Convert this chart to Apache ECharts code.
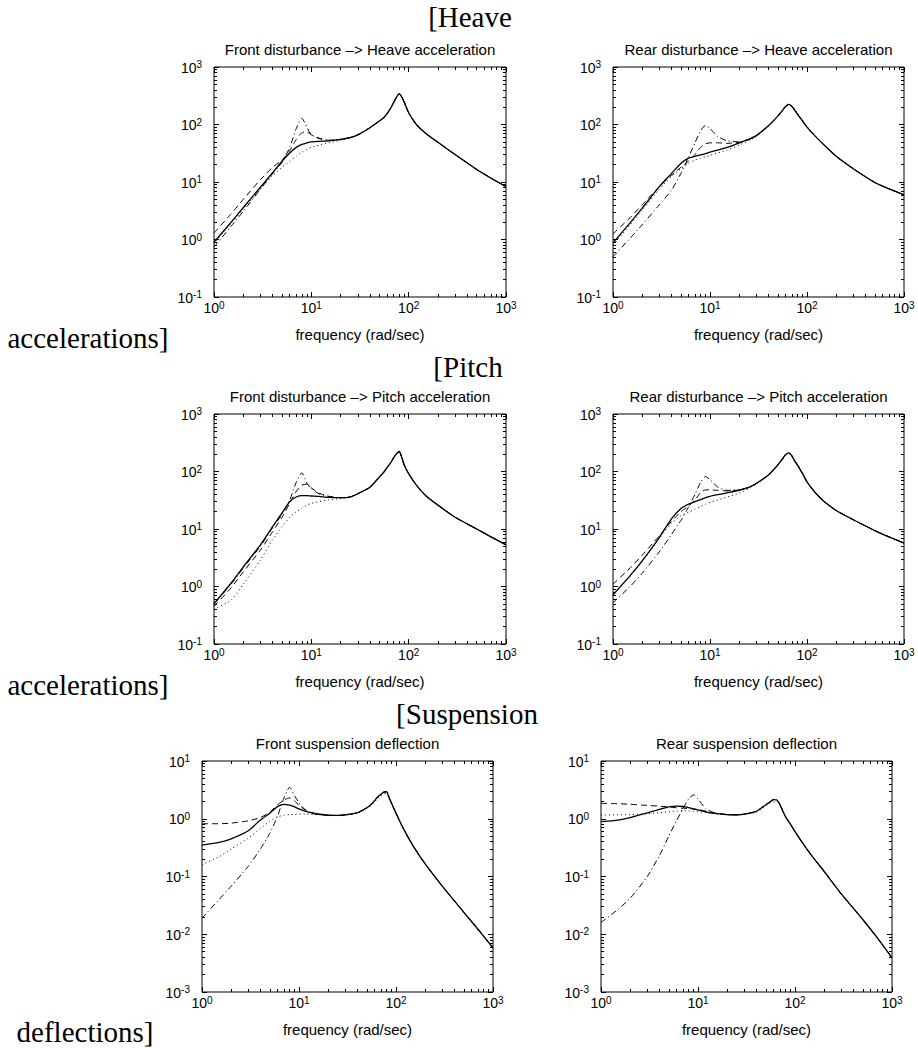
<!DOCTYPE html>
<html>
<head>
<meta charset="utf-8">
<script src="https://cdn.jsdelivr.net/npm/echarts@6/dist/echarts.min.js"></script>
<style>
html,body{margin:0;padding:0;background:#fff;}
#c{width:918px;height:1048px;}
</style>
</head>
<body>
<div id="c"></div>
<script>
// ---------- data ----------
const FREQ = [1,1.5,2,3,4,5,6,7,8,9,10,12,15,20,25,30,40,50,55,60,65,70,75,80,85,90,100,120,150,200,300,500,700,1000];

const X_TICKS = [1,10,100,1000];
const Y_TICKS_ACC = [0.1,1,10,100,1000];
const Y_TICKS_DEF = [0.001,0.01,0.1,1,10];
const MINOR_MULT = [2,3,4,5,6,7,8,9];

const SERIES_NAMES = ['solid','dashed','dotted','dashdot'];

// Front disturbance -> Heave acceleration
const fh_solid   = [0.9,2.0,3.6,8.1,14.5,23,32,40,45,48,50,51,52,55,59,66,88,115,130,155,190,240,300,345,300,245,160,100,70,49,30,16.5,11.7,8.3];
const fh_dashed  = [1.3,2.8,5.0,11,18,24,35,55,72,74,66,57,53,55,59,66,88,115,130,155,190,240,300,345,300,245,160,100,70,49,30,16.5,11.7,8.3];
const fh_dotted  = [0.85,1.9,3.4,7.6,13,18,23,28,33,37,40,44,48,53,58,66,88,117,133,158,190,232,285,330,295,245,160,100,70,49,30,16.5,11.7,8.3];
const fh_dashdot = [0.74,1.7,3.1,7.5,14,22,40,85,128,90,66,58,53,55,59,66,88,115,130,155,190,240,300,345,300,245,160,100,70,49,30,16.5,11.7,8.3];

// Rear disturbance -> Heave acceleration
const rh_solid   = [0.87,1.95,3.5,8.3,14,21,26,28,29.5,31,33,36,40,48,55,64,95,140,170,205,224,205,175,150,130,115,90,64,44,28,17,9.8,7.6,6.0];
const rh_dashed  = [1.25,2.4,4.0,8.3,13,18,23,30,40,46,48,48,47,49,55,64,95,140,170,205,224,205,175,150,130,115,90,64,44,28,17,9.8,7.6,6.0];
const rh_dotted  = [0.8,1.8,3.2,7.5,12.5,17,21,24,26,27.5,29,32,36,44,52,62,93,140,168,200,218,212,182,155,133,117,92,65,44,28,17,9.8,7.6,6.0];
const rh_dashdot = [0.5,1.05,1.8,4.0,7.2,14,27,48,78,97,85,62,52,50,55,64,95,140,170,205,224,205,175,150,130,115,90,64,44,28,17,9.8,7.6,6.0];

// Front disturbance -> Pitch acceleration
const fp_solid   = [0.5,1.15,2.2,5.3,11,19,30,36,38,38,37.5,37,35.5,35,36,41,53,80,95,117,140,172,205,224,175,130,92,58,38,26,16,10,7.3,5.3];
const fp_dashed  = [0.45,0.95,1.8,4.3,9,16,28,45,58,60,52,42,37,35,36,41,53,80,95,117,140,172,205,224,175,130,92,58,38,26,16,10,7.3,5.3];
const fp_dotted  = [0.4,0.58,1.1,2.9,6.5,11,16,20,23,26,28,30,32,34,36,41,54,82,98,120,145,175,200,212,172,128,90,58,38,26,16,10,7.3,5.3];
const fp_dashdot = [0.5,1.1,2.1,5.0,10.5,18,32,65,95,63,50,41,37,35,36,41,53,80,95,117,140,172,205,224,175,130,92,58,38,26,16,10,7.3,5.3];

// Rear disturbance -> Pitch acceleration
const rp_solid   = [0.72,1.55,2.8,7.1,15,22.5,27,30,32.5,35,37,39.5,42.5,47,53,62,87,130,160,195,210,185,150,128,108,92,66,44,30,21,14.5,9.4,7.3,5.7];
const rp_dashed  = [1.1,2.1,3.5,7.6,13.5,20,25,32,43,48,48,47,46,48,53,62,87,130,160,195,210,185,150,128,108,92,66,44,30,21,14.5,9.4,7.3,5.7];
const rp_dotted  = [0.7,1.5,2.7,6.8,12.5,17,19.5,22,24.5,27,29,32,36,42,50,60,87,128,155,188,205,192,160,135,112,95,68,44,30,21,14.5,9.4,7.3,5.7];
const rp_dashdot = [0.52,1.0,1.7,4.0,8,14,24,40,65,82,72,54,47,48,53,62,87,130,160,195,210,185,150,128,108,92,66,44,30,21,14.5,9.4,7.3,5.7];

// Front suspension deflection
const fs_solid   = [0.35,0.39,0.45,0.62,0.95,1.25,1.62,1.78,1.72,1.6,1.48,1.33,1.22,1.15,1.14,1.17,1.27,1.55,1.75,2.05,2.4,2.65,2.9,2.95,2.3,1.85,1.25,0.66,0.34,0.165,0.068,0.024,0.0122,0.0058];
const fs_dashed  = [0.82,0.82,0.84,0.92,1.05,1.3,1.75,2.1,2.3,2.05,1.7,1.38,1.22,1.15,1.14,1.17,1.27,1.55,1.75,2.05,2.4,2.65,2.9,2.95,2.3,1.85,1.25,0.66,0.34,0.165,0.068,0.024,0.0122,0.0058];
const fs_dotted  = [0.16,0.22,0.3,0.46,0.68,0.9,1.08,1.15,1.18,1.19,1.2,1.2,1.18,1.14,1.13,1.16,1.25,1.5,1.68,1.95,2.25,2.5,2.7,2.75,2.25,1.82,1.25,0.66,0.34,0.165,0.068,0.024,0.0122,0.0058];
const fs_dashdot = [0.019,0.04,0.068,0.15,0.3,0.56,1.1,2.3,3.5,2.5,1.9,1.35,1.2,1.15,1.14,1.17,1.27,1.55,1.75,2.05,2.4,2.65,2.9,2.95,2.3,1.85,1.25,0.66,0.34,0.165,0.068,0.024,0.0122,0.0058];

// Rear suspension deflection
const rs_solid   = [0.89,0.95,1.05,1.27,1.45,1.6,1.65,1.63,1.56,1.48,1.42,1.32,1.24,1.18,1.17,1.2,1.35,1.75,1.95,2.15,2.12,1.75,1.35,1.08,0.92,0.8,0.6,0.38,0.225,0.122,0.05,0.018,0.0088,0.0039];
const rs_dashed  = [1.85,1.82,1.78,1.7,1.65,1.6,1.55,1.52,1.5,1.47,1.44,1.36,1.25,1.18,1.17,1.2,1.35,1.75,1.95,2.15,2.12,1.75,1.35,1.08,0.92,0.8,0.6,0.38,0.225,0.122,0.05,0.018,0.0088,0.0039];
const rs_dotted  = [1.16,1.17,1.18,1.22,1.27,1.32,1.36,1.37,1.36,1.34,1.32,1.28,1.22,1.17,1.16,1.19,1.3,1.65,1.85,1.95,2.0,1.75,1.38,1.1,0.93,0.8,0.6,0.38,0.225,0.122,0.05,0.018,0.0088,0.0039];
const rs_dashdot = [0.016,0.027,0.042,0.1,0.23,0.5,0.92,1.5,2.2,2.6,2.2,1.5,1.25,1.18,1.17,1.2,1.35,1.75,1.95,2.15,2.12,1.75,1.35,1.08,0.92,0.8,0.6,0.38,0.225,0.122,0.05,0.018,0.0088,0.0039];

const PLOT_TITLES = [
  'Front disturbance –> Heave acceleration',
  'Rear disturbance –> Heave acceleration',
  'Front disturbance –> Pitch acceleration',
  'Rear disturbance –> Pitch acceleration',
  'Front suspension deflection',
  'Rear suspension deflection'
];
const X_LABEL = 'frequency (rad/sec)';
const SIDE_TEXTS = ['[Heave','accelerations]','[Pitch','accelerations]','[Suspension','deflections]'];

const PLOTS = [
  {title: PLOT_TITLES[0], yTicks: Y_TICKS_ACC, data: [fh_solid, fh_dashed, fh_dotted, fh_dashdot]},
  {title: PLOT_TITLES[1], yTicks: Y_TICKS_ACC, data: [rh_solid, rh_dashed, rh_dotted, rh_dashdot]},
  {title: PLOT_TITLES[2], yTicks: Y_TICKS_ACC, data: [fp_solid, fp_dashed, fp_dotted, fp_dashdot]},
  {title: PLOT_TITLES[3], yTicks: Y_TICKS_ACC, data: [rp_solid, rp_dashed, rp_dotted, rp_dashdot]},
  {title: PLOT_TITLES[4], yTicks: Y_TICKS_DEF, data: [fs_solid, fs_dashed, fs_dotted, fs_dashdot]},
  {title: PLOT_TITLES[5], yTicks: Y_TICKS_DEF, data: [rs_solid, rs_dashed, rs_dotted, rs_dashdot]}
];

// ---------- layout / style ----------
const GRIDS = [
  {left:214, top:67,  width:292, height:230},
  {left:613, top:67,  width:291, height:230},
  {left:214, top:414, width:292, height:230},
  {left:613, top:414, width:291, height:230},
  {left:202, top:761, width:291, height:231},
  {left:601, top:761, width:291, height:231}
];
const SANS = '"Liberation Sans", Arial, Helvetica, sans-serif';
const SERIF = '"Liberation Serif", "Times New Roman", serif';
const LINE_STYLES = {
  solid:   {type:'solid', width:1.3},
  dashed:  {type:[6,4], width:1},
  dotted:  {type:[1,3], width:1},
  dashdot: {type:[6,3,1,3], width:1}
};
const DRAW_ORDER = ['dotted','dashdot','dashed','solid'];

function minorOf(ticks){
  const out = [];
  for (let i = 0; i < ticks.length - 1; i++) {
    MINOR_MULT.forEach(m => out.push(ticks[i] * m));
  }
  return out;
}

const richLabel = {
  b: {fontSize:14, fontFamily:SANS, color:'#000', lineHeight:15, padding:[6,0,0,0], verticalAlign:'bottom'},
  s: {fontSize:10, fontFamily:SANS, color:'#000', lineHeight:10, verticalAlign:'top'}
};
function fmtPow(v){
  const e = Math.round(Math.log10(v));
  return '{b|10}{s|' + (e < 0 ? '-' + (-e) : e) + '}';
}

function mkAxis(dim, gi, pos, ticks, minor, label, extra){
  const ax = {
    type:'log', logBase:10, gridIndex:gi, position:pos,
    min: ticks[0], max: ticks[ticks.length-1],
    axisLine:{show:false}, splitLine:{show:false}, minorTick:{show:false},
    axisTick:{show:true, inside:true, length: minor ? 3 : 5,
      customValues: minor ? minorOf(ticks) : ticks,
      lineStyle:{color:'#000', width:1}},
    axisLabel: label ? {show:true, customValues: ticks, formatter: fmtPow, rich: richLabel,
      margin: dim === 'x' ? 3 : 12, color:'#000'} : {show:false},
    silent:true
  };
  return Object.assign(ax, extra || {});
}

const xAxes = [], yAxes = [], series = [], grids = [];
PLOTS.forEach((p, gi) => {
  grids.push(Object.assign({show:true, borderColor:'#000', borderWidth:1, backgroundColor:'#fff', containLabel:false, outerBoundsMode:'none'}, GRIDS[gi]));
  xAxes.push(mkAxis('x', gi, 'bottom', X_TICKS, false, true, {
    name: X_LABEL, nameLocation:'middle', nameGap:30,
    nameTextStyle:{fontSize:15, fontFamily:SANS, color:'#000'}
  }));
  xAxes.push(mkAxis('x', gi, 'top', X_TICKS, false, false));
  xAxes.push(mkAxis('x', gi, 'bottom', X_TICKS, true, false));
  xAxes.push(mkAxis('x', gi, 'top', X_TICKS, true, false));
  yAxes.push(mkAxis('y', gi, 'left', p.yTicks, false, true));
  yAxes.push(mkAxis('y', gi, 'right', p.yTicks, false, false));
  yAxes.push(mkAxis('y', gi, 'left', p.yTicks, true, false));
  yAxes.push(mkAxis('y', gi, 'right', p.yTicks, true, false));
  DRAW_ORDER.forEach(kind => {
    const arr = p.data[SERIES_NAMES.indexOf(kind)];
    series.push({
      type:'line', name: p.title + ' ' + kind,
      xAxisIndex: gi*4, yAxisIndex: gi*4,
      data: FREQ.map((f, i) => [f, arr[i]]),
      showSymbol:false, symbol:'none', silent:true, clip:true,
      smooth:0.2,
      lineStyle: Object.assign({color:'#000', cap:'butt', join:'round'}, LINE_STYLES[kind])
    });
  });
});

// free texts
const TITLE_POS = [[360,49],[758.5,49],[360,396],[758.5,396],[347.5,743],[746.5,743]];
const SIDE_POS  = [[470,17],[88,338],[468,367],[88,685],[467,714],[85,1032]];
const graphics = [];
PLOT_TITLES.forEach((t, i) => graphics.push({
  type:'text', x:TITLE_POS[i][0], y:TITLE_POS[i][1], silent:true,
  style:{text:t, fontSize:15, fontFamily:SANS, fill:'#000', align:'center', verticalAlign:'middle'}
}));
SIDE_TEXTS.forEach((t, i) => graphics.push({
  type:'text', x:SIDE_POS[i][0], y:SIDE_POS[i][1], silent:true,
  style:{text:t, fontSize:29, fontFamily:SERIF, fill:'#000', align:'center', verticalAlign:'middle'}
}));

const chart = echarts.init(document.getElementById('c'), null, {renderer:'svg', width:918, height:1048});
chart.setOption({
  animation:false,
  backgroundColor:'#fff',
  grid: grids,
  xAxis: xAxes,
  yAxis: yAxes,
  series: series,
  graphic: graphics
});
</script>
</body>
</html>
